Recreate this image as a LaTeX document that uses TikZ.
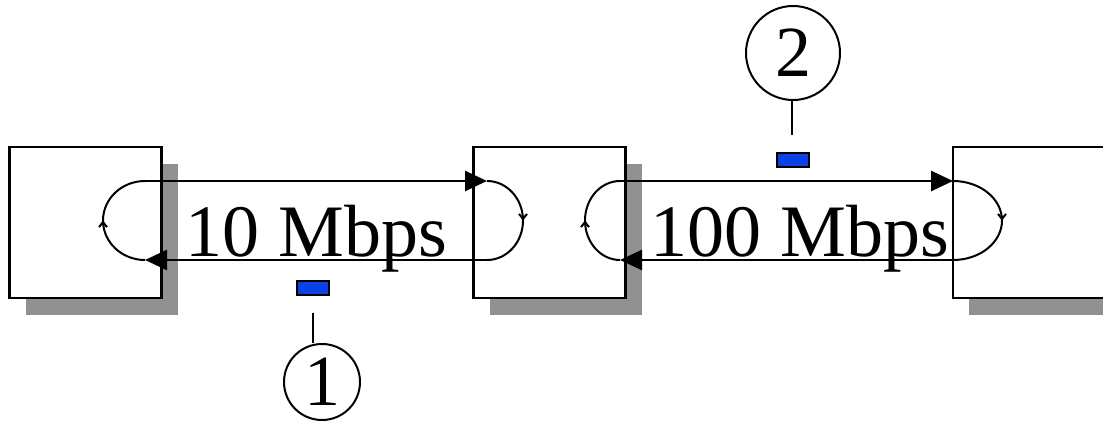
\documentclass[tikz,border=0pt]{standalone}
\usepackage{fontspec}
\setmainfont{Liberation Serif}
\usetikzlibrary{arrows.meta,shadows,decorations.markings}
\definecolor{shadowgray}{RGB}{145,145,145}
\definecolor{markblue}{RGB}{10,64,230}

\begin{document}
\begin{tikzpicture}[
        x=0.5pt, y=-0.5pt,
        >={Triangle[length=11pt,width=10pt]},
        hostbox/.style={draw, line width=1.2pt, fill=white, minimum width=76pt, minimum height=75.5pt, inner sep=0pt,
            drop shadow={shadow xshift=8pt, shadow yshift=-8.5pt, fill=shadowgray, opacity=1}},
        linkline/.style={line width=1.3pt},
        looparc/.style={line width=1pt, postaction={decorate},
            decoration={markings, mark=at position 0.5 with {\arrow{Straight Barb[length=2.5pt,width=4pt]}}}},
        ratelabel/.style={anchor=base, inner sep=0pt, font=\fontsize{37}{40}\selectfont},
        pktmark/.style={draw, line width=0.6pt, fill=markblue, minimum width=16pt, minimum height=7pt, inner sep=0pt},
        tagmark/.style={draw, circle, line width=1pt, inner sep=0pt, font=\fontsize{36}{40}\selectfont},
    ]
        \useasboundingbox (0,0) rectangle (1103,422);

        % Hosts
        \node[hostbox] (hostA) at (85.5,222.5) {};
        \node[hostbox] (hostB) at (549.5,222.5) {};
        \node[hostbox] (hostC) at (1029,222.5) {};

        % End points of the links
        \coordinate (a1t) at (145,181);
        \coordinate (a1b) at (145,260);
        \coordinate (b1t) at (487,181);
        \coordinate (b1b) at (487,260);
        \coordinate (a2t) at (620,181);
        \coordinate (a2b) at (620,260);
        \coordinate (b2t) at (953,181);
        \coordinate (b2b) at (953,260);

        % 1. Slow link
        \draw[linkline, ->] (a1t) -- (b1t);
        \draw[looparc] (b1t) arc[start angle=-90, end angle=90, x radius=36, y radius=39.5];
        \draw[linkline, ->] (b1b) -- (a1b);
        \draw[looparc] (a1b) arc[start angle=90, end angle=270, x radius=42, y radius=39.5];
        \node[ratelabel] (rate1) at (316.5,257) {10 Mbps};

        % 2. Fast link
        \draw[linkline, ->] (a2t) -- (b2t);
        \draw[looparc] (b2t) arc[start angle=-90, end angle=90, x radius=49, y radius=39.5];
        \draw[linkline, ->] (b2b) -- (a2b);
        \draw[looparc] (a2b) arc[start angle=90, end angle=270, x radius=35, y radius=39.5];
        \node[ratelabel] (rate2) at (800,257) {100 Mbps};

        % Packets and their tags
        \node[pktmark] (pkt1) at (313,288) {};
        \node[pktmark] (pkt2) at (793,160) {};
        \node[tagmark, minimum size=38pt] (tag1) at (322,382) {1};
        \node[tagmark, minimum size=47pt] (tag2) at (793,53) {2};
        \coordinate (lead1) at (313,313);
        \coordinate (lead2) at (792,135);
        \draw[line width=1.2pt] (lead1) -- (lead1 |- tag1.north);
        \draw[line width=1.2pt] (lead2) -- (lead2 |- tag2.south);
    \end{tikzpicture}
\end{document}
